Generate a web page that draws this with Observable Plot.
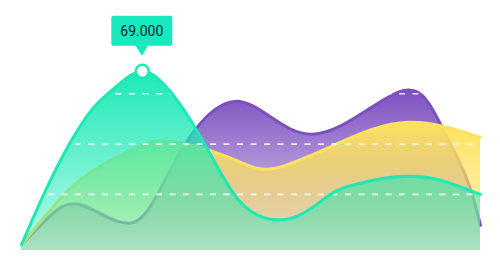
<!DOCTYPE html>
<html><head><meta charset="utf-8">
<script src="https://cdn.jsdelivr.net/npm/d3@7"></script>
<script src="https://cdn.jsdelivr.net/npm/@observablehq/plot@0.6"></script>
<style>html,body{margin:0;padding:0;background:#fff;}</style>
</head><body><div id="chart"></div>
<script>
// ---- data ----
const purpleX = [0, 1.12, 2.52, 4.64, 6.37, 8.94, 12.04, 15.6, 17.26, 18.4, 19];
const purpleY = [0, 10.9, 15.7, 8.9, 33.5, 57, 43.9, 60.7, 49.5, 27, 7.7];
const yellowX = [0, 1.82, 3.19, 4.72, 6.37, 8.86, 10.5, 13.1, 16.0, 19];
const yellowY = [0, 20.4, 30.8, 38.4, 40.8, 33.6, 30.4, 40.3, 48.7, 42.7];
const tealX = [0, 1, 2, 3, 4, 5, 6, 7, 8, 9, 10, 11, 12, 13, 14, 15, 16, 17, 18, 19];
const tealY = [0, 21.6, 40.3, 54.7, 63.5, 69, 62.7, 49.5, 32.8, 17.6, 10.9, 10.1, 14.5, 21.2, 24.4, 26.4, 27.2, 26.4, 23.6, 20];
const gridValues = [20, 40, 60, 80];
const tealPeakIndex = 5;
const xDomain = [0, 19];
const yDomain = [-2.3, 80];

const colors = {purple: "#7d50c0", yellow: "#fde25f", teal: "#1de9b6"};

const rows = (xs, ys) => xs.map((x, i) => ({x, y: ys[i]}));
const purple = rows(purpleX, purpleY);
const yellow = rows(yellowX, yellowY);
const teal = rows(tealX, tealY);
const peak = teal[tealPeakIndex];

const ns = "http://www.w3.org/2000/svg";
function el(name, attrs) {
  const e = document.createElementNS(ns, name);
  for (const k in attrs) e.setAttribute(k, attrs[k]);
  return e;
}

function tooltipMark(index, scales) {
  const cx = scales.x(peak.x), cy = scales.y(peak.y);
  const g = el("g", {});
  g.appendChild(el("rect", {x: cx - 30.5, y: cy - 55, width: 61, height: 30, rx: 2, fill: "#19e7bd"}));
  g.appendChild(el("path", {d: `M${cx - 6.5},${cy - 25.5}L${cx + 6.5},${cy - 25.5}L${cx},${cy - 15}Z`, fill: "#19e7bd"}));
  const t = el("text", {x: cx, y: cy - 40, "text-anchor": "middle", "dominant-baseline": "central",
    "font-family": "Roboto, 'Noto Sans', sans-serif", "font-size": 14, fill: "#1f2233"});
  t.textContent = d3.format(".3f")(peak.y);
  g.appendChild(t);
  return g;
}

const curve = "natural";
const svg = Plot.plot({
  width: 500,
  height: 269,
  marginLeft: 21,
  marginRight: 20,
  marginTop: 43,
  marginBottom: 19,
  x: {domain: xDomain, axis: null},
  y: {domain: yDomain, axis: null},
  marks: [
    Plot.areaY(purple, {x: "x", y1: yDomain[0], y2: "y", fill: "url(#gPurple)", curve}),
    Plot.lineY(purple, {x: "x", y: "y", stroke: colors.purple, strokeWidth: 3, curve}),
    Plot.areaY(yellow, {x: "x", y1: yDomain[0], y2: "y", fill: "url(#gYellow)", curve}),
    Plot.lineY(yellow, {x: "x", y: "y", stroke: colors.yellow, strokeWidth: 3, curve}),
    Plot.areaY(teal, {x: "x", y1: yDomain[0], y2: "y", fill: "url(#gTeal)", curve}),
    Plot.ruleY(gridValues, {stroke: "#fff", strokeOpacity: 0.85, strokeWidth: 1.6, strokeDasharray: "6,7.5"}),
    Plot.lineY(teal, {x: "x", y: "y", stroke: colors.teal, strokeWidth: 3, curve}),
    Plot.dot([peak], {x: "x", y: "y", r: 6.5, fill: "#fff", stroke: "#1de9b6", strokeWidth: 2.5}),
    tooltipMark
  ]
});

const defs = el("defs", {});
function grad(id, color, o1, o2) {
  const lg = el("linearGradient", {id, x1: 0, y1: 0, x2: 0, y2: 1});
  lg.appendChild(el("stop", {offset: "0%", "stop-color": color, "stop-opacity": o1}));
  lg.appendChild(el("stop", {offset: "100%", "stop-color": color, "stop-opacity": o2}));
  defs.appendChild(lg);
}
grad("gPurple", colors.purple, 1, 0.2);
grad("gYellow", colors.yellow, 1, 0.3);
grad("gTeal", colors.teal, 1, 0.3);
svg.insertBefore(defs, svg.firstChild);
document.getElementById("chart").appendChild(svg);
</script>
</body></html>
